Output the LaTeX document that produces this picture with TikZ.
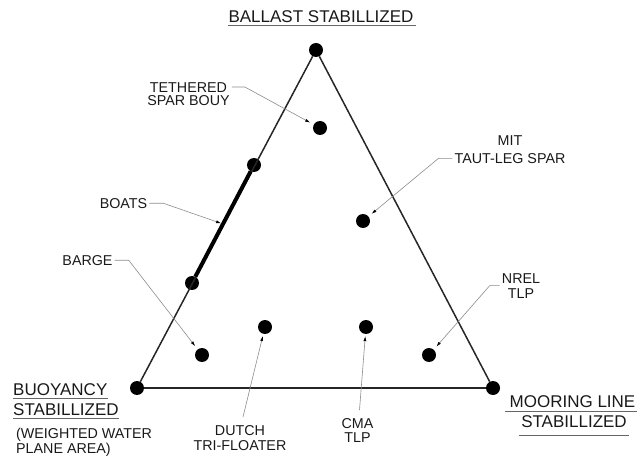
\documentclass[tikz,border=0pt]{standalone}
\usepackage{fontspec}
\setmainfont{Liberation Sans}
\usetikzlibrary{arrows.meta,calc}
\begin{document}
\begin{tikzpicture}[x=1pt,y=-1pt,
  dot/.style={circle,fill=black,inner sep=0pt,minimum size=14pt},
  edge/.style={line width=1.5pt,black!85},
  boatline/.style={line width=4pt,black},
  lbl/.style={inner sep=0pt,font=\fontsize{14.3}{15}\selectfont,text=black!90},
  big/.style={inner sep=0pt,font=\fontsize{17}{20}\selectfont,text=black!90},
  leader/.style={draw=black!45,line width=0.6pt,-{Latex[length=5pt,width=3pt,black]}},
  uline/.style={draw=black!60,line width=0.8pt}]
\useasboundingbox (0,0) rectangle (640,457);
% vertices and points
\node[dot] (top) at (316,50) {};
\node[dot] (bl) at (137,388) {};
\node[dot] (br) at (493,388) {};
\node[dot] (b1) at (254,165) {};
\node[dot] (b2) at (192,283) {};
\node[dot] (ts) at (320,128) {};
\node[dot] (mitd) at (363,221) {};
\node[dot] (nreld) at (429,355) {};
\node[dot] (barged) at (202,355) {};
\node[dot] (dutchd) at (265,327) {};
\node[dot] (cmad) at (366,327) {};
% triangle
\draw[edge] (top) -- (bl);
\draw[edge] (bl) -- (br);
\draw[edge] (br) -- (top);
\draw[boatline] (b1) -- (b2);
\coordinate (bt) at ($(b1)!0.5!(b2)$);
% labels
\node[big,anchor=north] (title) at (321,10) {BALLAST STABILLIZED};
\draw[uline] ([yshift=-3pt]title.south west) -- ([xshift=2pt,yshift=-3pt]title.south east);
\node[lbl,align=center,anchor=north,font=\fontsize{14.3}{13}\selectfont] (tet) at (188.5,82) {TETHERED\\SPAR BOUY};
\node[lbl,align=center,anchor=north,font=\fontsize{14.3}{18}\selectfont] (mit) at (510,135) {MIT\\TAUT-LEG SPAR};
\node[lbl,anchor=north] (boats) at (123.5,198) {BOATS};
\node[lbl,anchor=north] (barge) at (87.5,255) {BARGE};
\node[lbl,align=center,anchor=north] (nrel) at (521,273) {NREL\\TLP};
\node[lbl,align=center,anchor=north] (dutch) at (240,425) {DUTCH\\TRI-FLOATER};
\node[lbl,align=center,anchor=north,font=\fontsize{14.3}{14}\selectfont] (cma) at (357.5,418) {CMA\\TLP};
\node[big,anchor=north west] (buoy1) at (13,383) {BUOYANCY};
\node[big,anchor=north west] (buoy2) at (13,403) {STABILLIZED};
\draw[uline] ([yshift=-3pt]buoy1.south west) -- ([yshift=-3pt]buoy1.south east);
\draw[uline] ([yshift=-3pt]buoy2.south west) -- ([yshift=-3pt]buoy2.south east);
\node[lbl,align=left,anchor=north west,font=\fontsize{14.3}{14.5}\selectfont] (wwpa) at (16,428) {(WEIGHTED WATER\\PLANE AREA)};
\node[big,anchor=north] (moor1) at (572.5,395) {MOORING LINE};
\node[big,anchor=north] (moor2) at (574,415) {STABILLIZED};
\draw[uline] ([xshift=-4pt,yshift=-4pt]moor1.south west) -- ([xshift=1pt,yshift=-4pt]moor1.south east);
\draw[uline] ([xshift=-2pt,yshift=-8pt]moor2.south west) -- ([xshift=2pt,yshift=-8pt]moor2.south east);
% leaders
\draw[leader,shorten >=4pt] ([xshift=2pt,yshift=-5pt]tet.north east) -- ++(13,0) -- (ts);
\draw[leader,shorten >=4pt] ([xshift=-2pt,yshift=5pt]mit.south west) -- ++(-14,0) -- (mitd);
\draw[leader,shorten >=2pt] ([xshift=2pt]boats.east) -- ++(14,0) -- (bt);
\draw[leader,shorten >=4pt] ([xshift=2pt]barge.east) -- ++(14,0) -- (barged);
\draw[leader,shorten >=4pt] ([xshift=-2pt]nrel.west) -- ++(-10,0) -- (nreld);
\draw[leader,shorten >=2pt] ([xshift=3pt,yshift=8pt]dutch.north) -- (dutchd);
\draw[leader,shorten >=2pt] ([xshift=2pt,yshift=8pt]cma.north) -- (cmad);
\end{tikzpicture}
\end{document}
